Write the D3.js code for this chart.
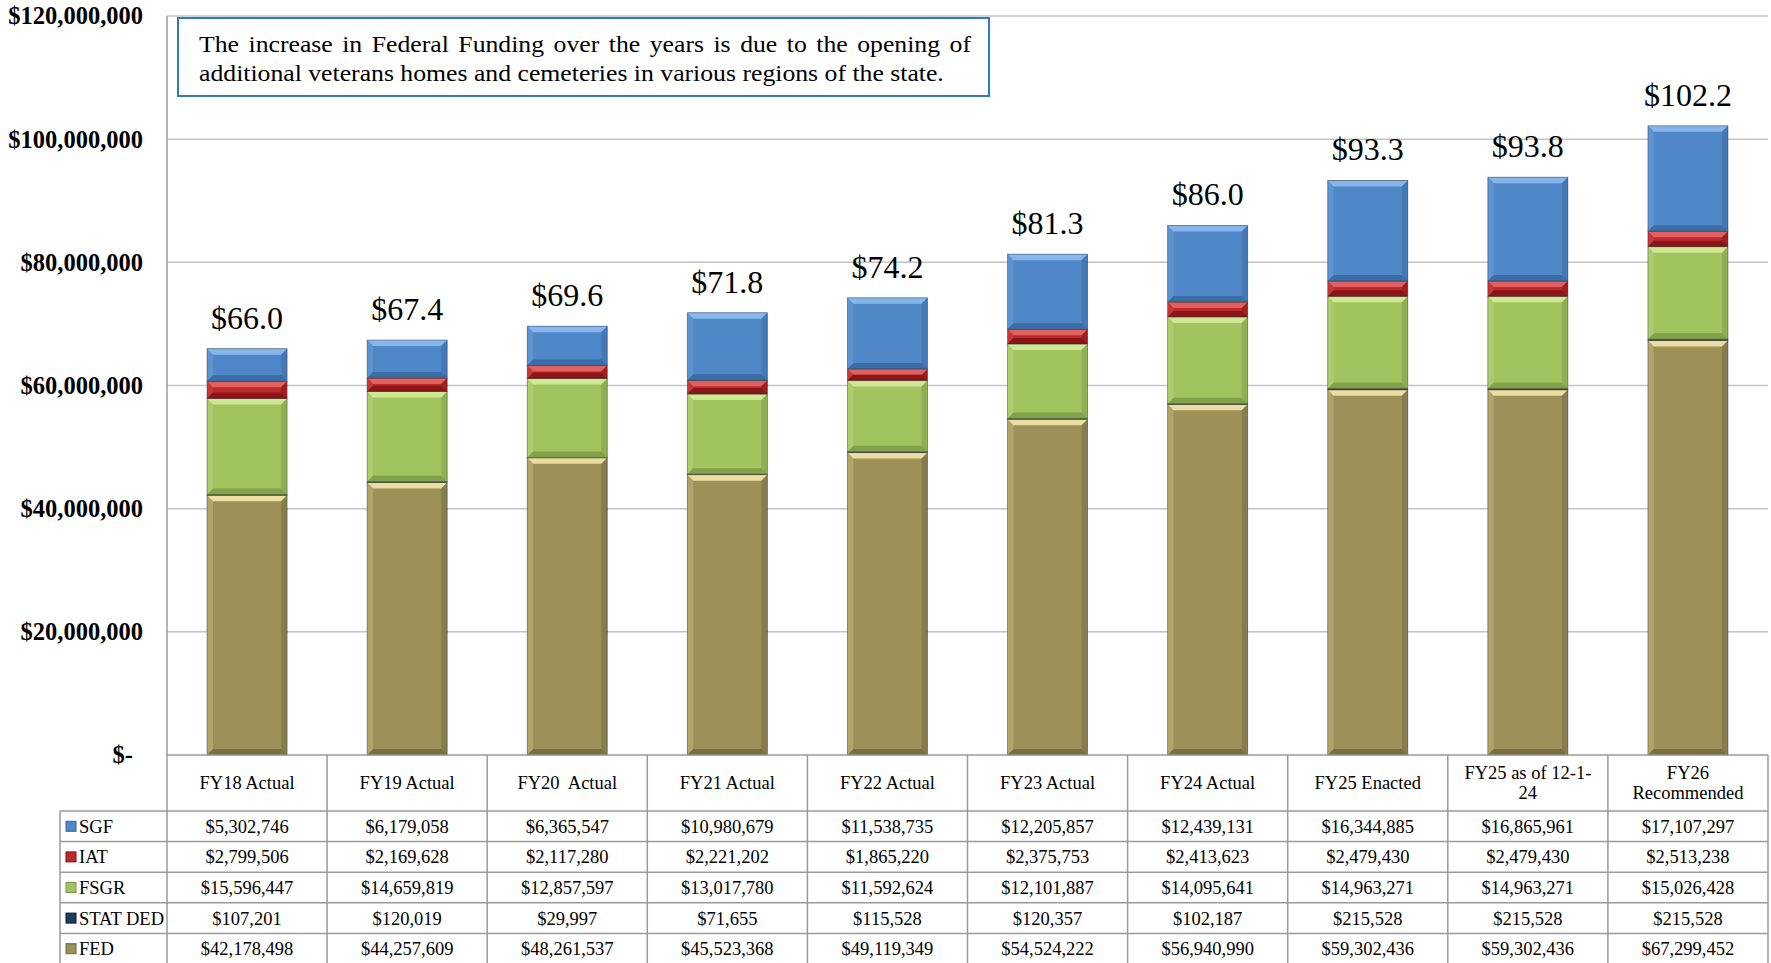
<!DOCTYPE html>
<html lang="en">
<head>
<meta charset="UTF-8">
<title>Veterans funding by means of finance</title>
<script src="https://d3js.org/d3.v7.min.js"></script>
<style>
  body { margin: 0; background: #fff; }
  svg { display: block; font-family: "Liberation Serif", "DejaVu Serif", serif; }
</style>
</head>
<body>
<div id="chart"></div>

<script>
// categories (columns) and the header text, split the way the table wraps it
const categories = ["FY18 Actual", "FY19 Actual", "FY20  Actual", "FY21 Actual", "FY22 Actual",
                    "FY23 Actual", "FY24 Actual", "FY25 Enacted", "FY25 as of 12-1-24", "FY26 Recommended"];
const headerLines = [["FY18 Actual"], ["FY19 Actual"], ["FY20  Actual"], ["FY21 Actual"], ["FY22 Actual"],
                     ["FY23 Actual"], ["FY24 Actual"], ["FY25 Enacted"], ["FY25 as of 12-1-", "24"], ["FY26", "Recommended"]];

// series values, straight from the data table
const sgf     = [5302746, 6179058, 6365547, 10980679, 11538735, 12205857, 12439131, 16344885, 16865961, 17107297];
const iat     = [2799506, 2169628, 2117280, 2221202, 1865220, 2375753, 2413623, 2479430, 2479430, 2513238];
const fsgr    = [15596447, 14659819, 12857597, 13017780, 11592624, 12101887, 14095641, 14963271, 14963271, 15026428];
const statDed = [107201, 120019, 29997, 71655, 115528, 120357, 102187, 215528, 215528, 215528];
const fed     = [42178498, 44257609, 48261537, 45523368, 49119349, 54524222, 56940990, 59302436, 59302436, 67299452];

// y axis ticks
const yTicks = [0, 20000000, 40000000, 60000000, 80000000, 100000000, 120000000];

const note1 = "The increase in Federal Funding over the years is due to the opening of";
const note2 = "additional veterans homes and cemeteries in various regions of the state.";

// series: table order (top to bottom) is the reverse of the stacking order
const series = [
    { key: "SGF",      values: sgf,     main: "#5087C8", light: "#86B6EC", dark: "#36679F" },
    { key: "IAT",      values: iat,     main: "#BE2A2C", light: "#E2605E", dark: "#7C1215" },
    { key: "FSGR",     values: fsgr,    main: "#A1C460", light: "#CFE993", dark: "#7A9842" },
    { key: "STAT DED", values: statDed, main: "#1F3A5F", light: "#4B6A93", dark: "#0E1D33" },
    { key: "FED",      values: fed,     main: "#9C9159", light: "#EADFA0", dark: "#6F663B" }
];
const stackOrder = ["FED", "STAT DED", "FSGR", "IAT", "SGF"];

// rows for d3.stack
const rows = categories.map((c, i) => {
    const r = { cat: c };
    series.forEach(s => r[s.key] = s.values[i]);
    return r;
});

const W = 1771, H = 963;
const plot = { left: 167, right: 1768, top: 16, bottom: 755 };
const table = { left: 60, headerH: 56, rowH: 30.6 };

const svg = d3.select("#chart").append("svg")
    .attr("width", W)
    .attr("height", H);

svg.append("rect").attr("width", W).attr("height", H).attr("fill", "#fff");

const x = d3.scaleBand()
    .domain(categories)
    .range([plot.left, plot.right])
    .padding(0);

const y = d3.scaleLinear()
    .domain([0, 120000000])
    .range([plot.bottom, plot.top]);

// gridlines
svg.append("g")
    .selectAll("line")
    .data(yTicks.filter(d => d > 0))
    .join("line")
        .attr("x1", plot.left)
        .attr("x2", plot.right)
        .attr("y1", d => y(d))
        .attr("y2", d => y(d))
        .attr("stroke", "#C4C4C4")
        .attr("stroke-width", 1.5);

// y axis labels
const yAxis = svg.append("g")
    .attr("transform", `translate(${plot.left},0)`)
    .call(d3.axisLeft(y)
        .tickValues(yTicks)
        .tickSize(0)
        .tickPadding(24)
        .tickFormat(d => d === 0 ? "$-" : d3.format("$,")(d)));
yAxis.select(".domain").remove();
yAxis.selectAll("text")
    .attr("font-family", "'Liberation Serif', serif")
    .attr("font-size", 24.5)
    .attr("font-weight", "bold")
    .attr("fill", "#000")
    .attr("dx", d => d === 0 ? -10 : 0);

// stacked bars with a bevelled look
const stacked = d3.stack().keys(stackOrder)(rows);
const bw = x.bandwidth() * 0.5;

const layers = svg.append("g")
    .selectAll("g")
    .data(stacked)
    .join("g");

layers.each(function(layer) {
    const s = series.find(d => d.key === layer.key);
    const segs = d3.select(this).selectAll("g")
        .data(layer)
        .join("g")
        .attr("transform", d => `translate(${x(d.data.cat) + (x.bandwidth() - bw) / 2},${y(d[1])})`);

    segs.each(function(d) {
        const g = d3.select(this);
        const w = bw;
        const h = y(d[0]) - y(d[1]);
        const b = Math.min(6, h / 2);
        g.append("rect")
            .attr("width", w).attr("height", h)
            .attr("fill", s.main);
        if (h > 3) {
            g.append("polygon")   // top
                .attr("points", [[0, 0], [w, 0], [w - b, b], [b, b]].join(" "))
                .attr("fill", s.light);
            g.append("polygon")   // left
                .attr("points", [[0, 0], [b, b], [b, h - b], [0, h]].join(" "))
                .attr("fill", s.light).attr("opacity", 0.25);
            g.append("polygon")   // right
                .attr("points", [[w, 0], [w, h], [w - b, h - b], [w - b, b]].join(" "))
                .attr("fill", s.dark).attr("opacity", 0.45);
            g.append("polygon")   // bottom
                .attr("points", [[0, h], [w, h], [w - b, h - b], [b, h - b]].join(" "))
                .attr("fill", s.dark).attr("opacity", 0.8);
        }
        g.append("rect")
            .attr("width", w).attr("height", h)
            .attr("fill", "none")
            .attr("stroke", "rgba(40,40,40,0.5)")
            .attr("stroke-width", 0.8);
    });
});

// total labels in millions
svg.append("g")
    .selectAll("text")
    .data(rows)
    .join("text")
        .attr("x", d => x(d.cat) + x.bandwidth() / 2)
        .attr("y", d => y(d3.sum(stackOrder, k => d[k])) - 20)
        .attr("text-anchor", "middle")
        .attr("font-size", 32)
        .attr("fill", "#000")
        .text(d => "$" + d3.format(".1f")(d3.sum(stackOrder, k => d[k]) / 1e6));

// note box
const box = svg.append("g");
box.append("rect")
    .attr("x", 178).attr("y", 18)
    .attr("width", 811).attr("height", 78)
    .attr("fill", "#fff")
    .attr("stroke", "#2E7BC4")
    .attr("stroke-width", 2);

// the source font is wider, so the note text is stretched a little horizontally
const stretch = 1.095;
const noteG = box.append("g")
    .attr("transform", `translate(199,0) scale(${stretch},1)`);
const t1 = noteG.append("text")
    .attr("x", 0).attr("y", 52)
    .attr("font-size", 23.5)
    .text(note1);
// justify first line by widening the word spacing
const natural = t1.node().getComputedTextLength();
const spaces = note1.split(" ").length - 1;
t1.attr("word-spacing", Math.max(0, (772 / stretch - natural) / spaces));
noteG.append("text")
    .attr("x", 0).attr("y", 81)
    .attr("font-size", 23.5)
    .text(note2);

// data table
const tableTop = plot.bottom;
const rowTop = i => tableTop + table.headerH + i * table.rowH;
const tbl = svg.append("g");
const lineColor = "#9A9A9A";

// header text
tbl.selectAll("text.hdr")
    .data(categories)
    .join("text")
        .attr("class", "hdr")
        .attr("text-anchor", "middle")
        .attr("font-size", 18.5)
        .attr("style", "white-space: pre")
        .each(function(d, i) {
            const lines = headerLines[i];
            const cy = tableTop + table.headerH / 2;
            d3.select(this).selectAll("tspan")
                .data(lines)
                .join("tspan")
                    .attr("x", x(d) + x.bandwidth() / 2)
                    .attr("y", (l, j) => cy + (j - (lines.length - 1) / 2) * 20)
                    .attr("dy", "0.35em")
                    .text(l => l);
        });

// value rows
series.forEach((s, r) => {
    const cy = rowTop(r) + table.rowH / 2;
    tbl.append("rect")
        .attr("x", table.left + 6).attr("y", cy - 5)
        .attr("width", 10).attr("height", 10)
        .attr("fill", s.main)
        .attr("stroke", s.dark).attr("stroke-width", 1);
    tbl.append("text")
        .attr("x", table.left + 19).attr("y", cy)
        .attr("dy", "0.35em")
        .attr("font-size", 18.5)
        .text(s.key);
    tbl.selectAll(null)
        .data(s.values)
        .join("text")
            .attr("x", (v, i) => x(categories[i]) + x.bandwidth() / 2)
            .attr("y", cy)
            .attr("dy", "0.35em")
            .attr("text-anchor", "middle")
            .attr("font-size", 18.5)
            .text(v => d3.format("$,")(v));
});

// table grid
const hLines = [tableTop];
for (let i = 0; i <= series.length; i++) hLines.push(rowTop(i));
tbl.selectAll("line.h")
    .data(hLines)
    .join("line")
        .attr("x1", (d, i) => i < 1 ? plot.left : table.left)
        .attr("x2", plot.right)
        .attr("y1", d => d).attr("y2", d => d)
        .attr("stroke", lineColor).attr("stroke-width", 1.5);

const vLines = categories.map(c => x(c)).concat([plot.right]);
tbl.selectAll("line.v")
    .data(vLines)
    .join("line")
        .attr("x1", d => d).attr("x2", d => d)
        .attr("y1", (d, i) => i === 0 ? plot.top : tableTop)
        .attr("y2", H)
        .attr("stroke", lineColor).attr("stroke-width", 1.5);

tbl.append("line")
    .attr("x1", table.left).attr("x2", table.left)
    .attr("y1", rowTop(0)).attr("y2", H)
    .attr("stroke", lineColor).attr("stroke-width", 1.5);
</script>
</body>
</html>
